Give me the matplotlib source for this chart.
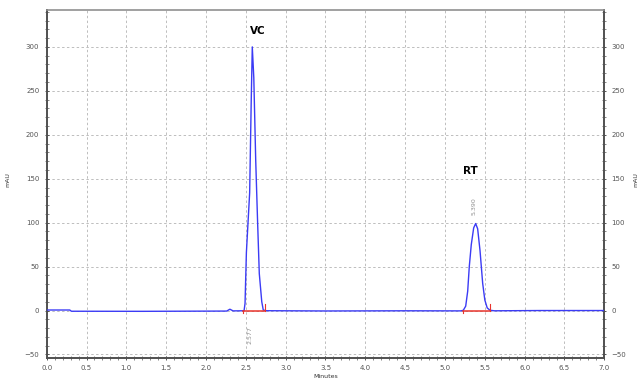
import matplotlib
matplotlib.use("Agg")
import matplotlib.pyplot as plt
from matplotlib.ticker import MultipleLocator

# chromatogram trace (minutes, mAU)
time = [0.00, 0.29, 0.31, 1.20, 2.26, 2.30, 2.34, 2.46, 2.478, 2.49, 2.507,
        2.548, 2.568, 2.581, 2.60, 2.624, 2.648, 2.669, 2.70, 2.719, 2.76,
        3.50, 4.50, 5.20, 5.23, 5.26, 5.285, 5.305, 5.33, 5.36, 5.385, 5.41,
        5.44, 5.473, 5.50, 5.53, 5.565, 5.62, 6.20, 7.00]
mau = [0.6, 0.6, -0.8, -0.9, -0.6, 1.5, -0.4, -0.3, 0.0, 8.0, 66.0,
       134.0, 240.0, 300.0, 265.0, 171.0, 100.0, 42.0, 10.0, 0.5, -0.2,
       -0.5, -0.3, -0.4, 0.3, 5.0, 22.0, 50.0, 75.0, 94.0, 99.0, 93.0,
       68.0, 31.0, 12.0, 3.0, 0.3, -0.3, 0.0, 0.0]

# integration baselines (start, end) and retention-time labels
int_start = [2.465, 5.232]
int_end = [2.745, 5.565]
rt_values = [2.577, 5.390]
rt_label_y = [-28, 119]
peak_names = ["VC", "RT"]
peak_name_x = [2.65, 5.32]
peak_name_y = [318, 159]

fig = plt.figure(figsize=(6.42, 3.81), dpi=100)
ax = fig.add_axes([0.0727, 0.0604, 0.8686, 0.9134])

ax.plot(time, mau, color="#3b3bf5", lw=1.0, zorder=3)

for s, e in zip(int_start, int_end):
    ax.plot([s, e], [0, 0], color="#e8342c", lw=1.1, zorder=4)
    ax.plot([s, s], [0, -3], color="#e8342c", lw=0.8, zorder=4)
    ax.plot([e, e], [0, 7], color="#e8342c", lw=0.8, zorder=4)

for rt, yl in zip(rt_values, rt_label_y):
    ax.text(rt - 0.02, yl, f"{rt:.3f}", rotation=90, fontsize=4.5,
            color="#909090", ha="center", va="center")

for name, nx, ny in zip(peak_names, peak_name_x, peak_name_y):
    ax.text(nx, ny, name, fontsize=7.5, fontweight="bold", ha="center",
            va="center", color="black")

ax.set_xlim(0, 7)
ax.set_ylim(-54, 342)
ax.xaxis.set_major_locator(MultipleLocator(0.5))
ax.xaxis.set_minor_locator(MultipleLocator(0.1))
ax.yaxis.set_major_locator(MultipleLocator(50))
ax.yaxis.set_minor_locator(MultipleLocator(10))
ax.xaxis.set_major_formatter(plt.FormatStrFormatter("%.1f"))

ax.grid(True, which="major", color="#bdbdbd", ls=(0, (2.5, 2.5)), lw=0.7)
ax.tick_params(which="both", labelsize=5, colors="#555555", direction="inout",
               right=True, labelright=True, top=False)
ax.tick_params(which="major", length=3.5, width=0.7)
ax.tick_params(which="minor", length=2.5, width=0.5)

for side in ["left", "bottom", "right"]:
    ax.spines[side].set_color("#505050")
    ax.spines[side].set_linewidth(1.4)
ax.spines["top"].set_color("#909090")
ax.spines["top"].set_linewidth(1.2)

ax.set_xlabel("Minutes", fontsize=4.5, color="#333333", labelpad=2)
fig.text(0.013, 0.53, "mAU", rotation=90, fontsize=4.5, color="#333333",
         ha="center", va="center")
fig.text(0.99, 0.53, "mAU", rotation=90, fontsize=4.5, color="#333333",
         ha="center", va="center")

fig.savefig("out.png", dpi=100)
